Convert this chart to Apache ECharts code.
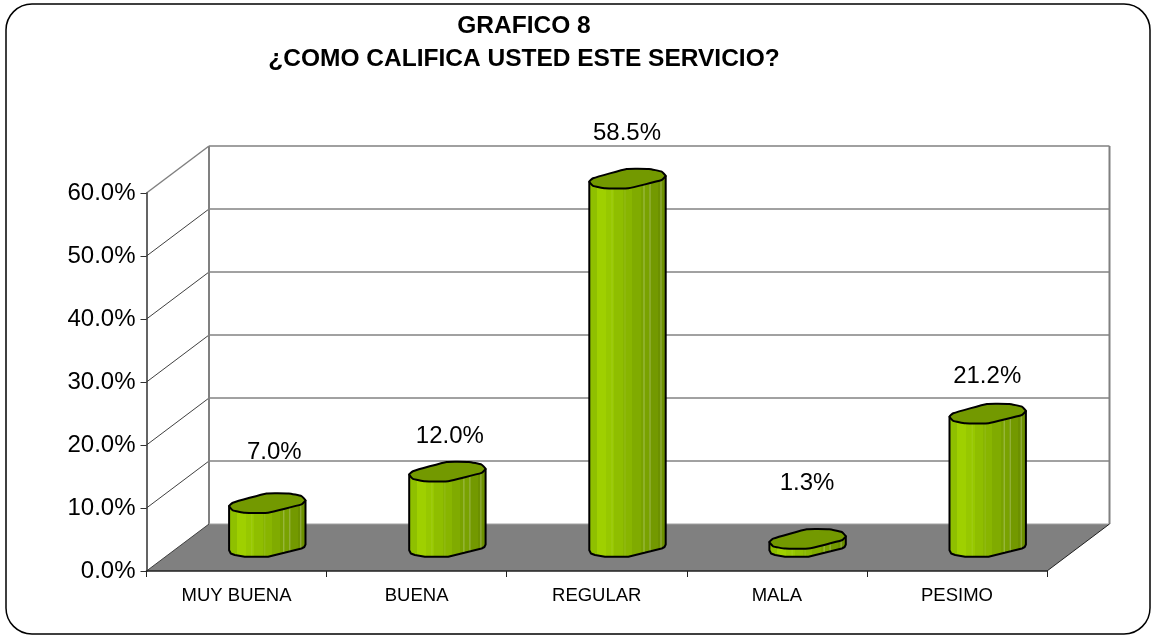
<!DOCTYPE html>
<html><head><meta charset="utf-8">
<style>html,body{margin:0;padding:0;background:#fff}#c{width:1156px;height:636px}</style>
<script src="https://cdn.jsdelivr.net/npm/echarts@6/dist/echarts.min.js"></script>
</head><body><div id="c"></div>
<script>
const categories = ['MUY BUENA','BUENA','REGULAR','MALA','PESIMO'];
const values = [7.0,12.0,58.5,1.3,21.2];
const yTicks = [0,10,20,30,40,50,60];
const titleLines = ['GRAFICO 8','¿COMO CALIFICA USTED ESTE SERVICIO?'];

// chart styling
const FONT = '"Liberation Sans", Arial, sans-serif';
const DX = 62.5, DY = -47;
const TOP_SHAPE = [[-38.7,2.7],[-35,-0.7],[-1.3,-10],[21,-10],[33.7,-7.3],[37.7,-3],[33.7,1],[0.3,9.3],[-23,9.3],[-35,7]];
const LOWER = [[-38.7,2.7],[-37,6],[-33,7.5],[-23,9.3],[0.3,9.3],[33.7,1],[36.5,-0.5],[37.7,-3]];
const STRIPES = [-16,-3,16,22,33];
const LABEL_NUDGE = [[6.5,-51],[2,-36],[-1,-46],[-1,-56],[-1,-38]];
const BANDS = ['#8fc000','#9fd000','#97c800','#8fbe00','#88b500','#80ab00','#79a200','#739900','#6c9000'];
function bodyFill(){
  const stops=[];
  BANDS.forEach((c,i)=>{stops.push({offset:i/BANDS.length,color:c});stops.push({offset:(i+1)/BANDS.length,color:c});});
  return {type:'linear',x:0,y:0,x2:1,y2:0,colorStops:stops};
}
function lowerY(x){
  for(let i=0;i<LOWER.length-1;i++){
    const a=LOWER[i],b=LOWER[i+1];
    if(x>=a[0]&&x<=b[0]) return a[1]+(b[1]-a[1])*(x-a[0])/(b[0]-a[0]);
  }
  return 0;
}
function renderWalls(params,api){
  const g=params.coordSys, x0=g.x, x1=g.x+g.width, yb=g.y+g.height;
  const kids=[];
  kids.push({type:'polygon',shape:{points:[[x0,yb],[x0+DX,yb+DY],[x1+DX,yb+DY],[x1,yb]]},style:{fill:'#808080',stroke:null}});
  yTicks.forEach((t,i)=>{
    if(t===0) return;
    const y=api.coord([0,t])[1];
    const top=t===yTicks[yTicks.length-1];
    const col=top?'#808080':'#404040';
    kids.push({type:'line',shape:{x1:x0,y1:y,x2:x0+DX,y2:y+DY},style:{stroke:col,lineWidth:top?1.5:1}});
    kids.push({type:'line',shape:{x1:x0+DX,y1:y+DY,x2:x1+DX,y2:y+DY},style:{stroke:top?'#808080':'#444',lineWidth:top?1.5:1}});
  });
  kids.push({type:'line',shape:{x1:x0+DX,y1:g.y+DY,x2:x0+DX,y2:yb+DY},style:{stroke:'#808080',lineWidth:2}});
  kids.push({type:'line',shape:{x1:x1+DX,y1:g.y+DY,x2:x1+DX,y2:yb+DY},style:{stroke:'#808080',lineWidth:2}});
  kids.push({type:'line',shape:{x1:x0+DX,y1:yb+DY,x2:x1+DX,y2:yb+DY},style:{stroke:'#a0a0a0',lineWidth:1}});
  kids.push({type:'line',shape:{x1:x1,y1:yb,x2:x1+DX,y2:yb+DY},style:{stroke:'#202020',lineWidth:1}});
  kids.push({type:'line',shape:{x1:x0,y1:yb,x2:x0+DX,y2:yb+DY},style:{stroke:'#404040',lineWidth:1}});
  return {type:'group',children:kids};
}
function renderBar(params,api){
  const i=api.value(0), v=api.value(1);
  const base=api.coord([i,0]), top=api.coord([i,v]);
  const cx=base[0]+DX/2, cyB=base[1]+DY/2, cyT=top[1]+DY/2;
  const body=[[cx+TOP_SHAPE[0][0],cyT+TOP_SHAPE[0][1]],[cx+TOP_SHAPE[5][0],cyT+TOP_SHAPE[5][1]]];
  LOWER.slice().reverse().forEach(p=>body.push([cx+p[0],cyB+p[1]]));
  const kids=[{type:'polygon',shape:{points:body},style:{fill:bodyFill(),stroke:'#000',lineWidth:2,lineJoin:'round'}}];
  STRIPES.forEach((s,k)=>{
    const ly=lowerY(s);
    kids.push({type:'line',shape:{x1:cx+s,y1:cyT+ly,x2:cx+s,y2:cyB+ly-1},style:{stroke:k<2?'rgba(255,255,255,0.10)':'rgba(255,255,255,0.32)',lineWidth:1}});
  });
  kids.push({type:'polygon',shape:{points:TOP_SHAPE.map(p=>[cx+p[0],cyT+p[1]]),smooth:0.12},style:{fill:'#739900',stroke:'#000',lineWidth:2,lineJoin:'round'}});
  const n=LABEL_NUDGE[i];
  kids.push({type:'text',style:{text:v.toFixed(1)+'%',x:cx+n[0],y:cyT+n[1],align:'center',verticalAlign:'middle',font:'24px '+FONT,fill:'#000'},z2:5});
  return {type:'group',children:kids};
}
const chart=echarts.init(document.getElementById('c'),null,{renderer:'canvas'});
chart.setOption({
  animation:false,
  backgroundColor:'#fff',
  title:[
    {text:titleLines[0],left:519,top:9,textAlign:'center',textStyle:{fontFamily:FONT,fontSize:24.5,fontWeight:'bold',color:'#000'}},
    {text:titleLines[1],left:519,top:42,textAlign:'center',textStyle:{fontFamily:FONT,fontSize:24.5,fontWeight:'bold',color:'#000'}}
  ],
  graphic:[{type:'rect',silent:true,z:-1,shape:{x:6,y:4,width:1144,height:630,r:26},style:{fill:'#fff',stroke:'#000',lineWidth:1.5}}],
  grid:{left:146.5,top:193,width:900.5,height:378,containLabel:false},
  xAxis:{type:'category',data:categories,boundaryGap:true,z:5,
    axisLine:{lineStyle:{color:'#202020',width:1.5}},
    axisTick:{show:true,length:6,lineStyle:{color:'#202020'}},
    axisLabel:{interval:0,margin:15,fontFamily:FONT,fontSize:18.5,color:'#000'}},
  yAxis:{type:'value',min:0,max:60,interval:10,z:5,
    splitLine:{show:false},
    axisLine:{show:true,lineStyle:{color:'#303030',width:1.5}},
    axisTick:{show:true,length:6,lineStyle:{color:'#303030'}},
    axisLabel:{margin:11,padding:[2,0,0,0],fontFamily:FONT,fontSize:24,color:'#000',formatter:v=>v.toFixed(1)+'%'}},
  series:[
    {type:'custom',coordinateSystem:'cartesian2d',z:1,silent:true,data:[[0,0]],renderItem:renderWalls,clip:false},
    {type:'custom',coordinateSystem:'cartesian2d',z:3,silent:true,clip:false,
      data:values.map((v,i)=>[i,v]),encode:{x:0,y:1},renderItem:renderBar}
  ]
});
</script></body></html>
